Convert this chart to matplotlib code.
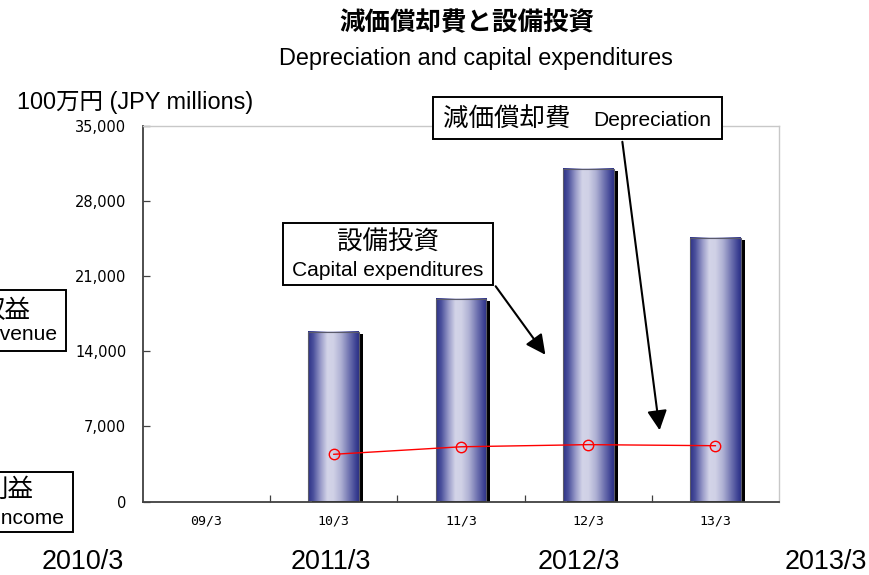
import numpy as np
import matplotlib
matplotlib.use("Agg")
import matplotlib.pyplot as plt
from matplotlib import font_manager
from matplotlib.colors import LinearSegmentedColormap
from matplotlib.patches import Rectangle, FancyArrowPatch

# ---------------- data ----------------
categories = ['09/3', '10/3', '11/3', '12/3', '13/3']
capex = [np.nan, 15800, 18900, 31000, 24600]          # 設備投資 (bars)
depreciation = [np.nan, 4400, 5100, 5300, 5200]       # 減価償却費 (line)
yticks = [0, 7000, 14000, 21000, 28000, 35000]
bottom_labels = ['2010/3', '2011/3', '2012/3', '2013/3']

W, H = 870, 575
fig = plt.figure(figsize=(W / 100, H / 100), dpi=100)

def fx(x):
    return x / W

def fy(y):
    return 1 - y / H

def pt(px):
    return px * 72 / 100

names = {f.name for f in font_manager.fontManager.ttflist}
LAT = ['Liberation Sans', 'DejaVu Sans']
JP = ['Noto Sans CJK JP', 'DejaVu Sans']
MIX = ['Liberation Sans', 'Noto Sans CJK JP', 'DejaVu Sans']
if 'Liberation Sans Narrow' in names:
    NARROW = ['Liberation Sans Narrow', 'DejaVu Sans']
    narrow_size = 30
elif 'DejaVu Sans Condensed' in names:
    NARROW = ['DejaVu Sans Condensed', 'DejaVu Sans']
    narrow_size = 27
else:
    NARROW = ['Liberation Sans', 'DejaVu Sans']
    narrow_size = 27

# ---------------- axes ----------------
ax = fig.add_axes([fx(143), fy(501.5), fx(779) - fx(143), fy(126) - fy(501.5)])
x = np.arange(len(categories))
ax.set_xlim(-0.5, len(categories) - 0.5)
ax.set_ylim(0, 35000)

cmap = LinearSegmentedColormap.from_list('barg', [
    (0.00, '#2c3186'), (0.10, '#4a4f9c'), (0.25, '#9a9cc9'),
    (0.38, '#d3d4e8'), (0.50, '#d0d1e6'), (0.65, '#aeb0d3'),
    (0.82, '#6b6fae'), (0.95, '#3a3f92'), (1.00, '#2c3186')])
grad = np.linspace(0, 1, 256).reshape(1, -1)

bw = 0.40
sx = 4 / 127               # shadow x offset in data units
sy = 2.5 * 35000 / 375.5   # shadow y offset in data units
for xi, v in zip(x, capex):
    if np.isnan(v):
        continue
    x0 = xi - bw / 2
    ax.add_patch(Rectangle((x0 + sx, 0), bw, v - sy, facecolor='black',
                           edgecolor='none', zorder=1.5))
    ax.imshow(grad, extent=[x0, x0 + bw, 0, v], aspect='auto', cmap=cmap,
              interpolation='bilinear', zorder=2)
    ax.add_patch(Rectangle((x0, 0), bw, v, facecolor='none',
                           edgecolor='#5a5a6a', linewidth=0.8, zorder=2.1))

ax.set_xlim(-0.5, len(categories) - 0.5)
ax.set_ylim(0, 35000)

ax.plot(x, depreciation, color='#ff0000', linewidth=1.0, marker='o',
        markersize=7.5, markerfacecolor='none', markeredgecolor='#ff0000',
        markeredgewidth=1.0, zorder=3)

# ticks
ax.set_yticks(yticks)
ax.set_yticklabels([f'{t:,}' for t in yticks], fontfamily=['DejaVu Sans'],
                   fontsize=10.5)
ax.tick_params(axis='y', direction='in', length=5, width=0.9, pad=12,
               color='#404040')
ax.set_xticks(x)
ax.set_xticklabels(categories, fontfamily=['DejaVu Sans Mono'], fontsize=9.5)
ax.tick_params(axis='x', which='major', length=0, pad=9)
ax.set_xticks(np.arange(-0.5, len(categories) + 0.5, 1)[1:-1], minor=True)
ax.tick_params(axis='x', which='minor', direction='in', length=5, width=0.9,
               color='#404040')

for s in ['left', 'bottom']:
    ax.spines[s].set_color('#404040')
    ax.spines[s].set_linewidth(1.3)
for s in ['top', 'right']:
    ax.spines[s].set_color('#c8c8c8')
    ax.spines[s].set_linewidth(1.0)

# ---------------- titles ----------------
fig.text(fx(467), fy(23), '減価償却費と設備投資', family=JP, weight='bold',
         fontsize=pt(25.5), ha='center', va='center')
fig.text(fx(476), fy(58), 'Depreciation and capital expenditures', family=LAT,
         fontsize=pt(23.5), ha='center', va='center')
fig.text(fx(17), fy(103), '100万円 (JPY millions)', family=MIX,
         fontsize=pt(23.5), ha='left', va='center')

# ---------------- callout boxes ----------------
def box(x0, y0, x1, y1):
    fig.patches.append(Rectangle((fx(x0), fy(y1)), fx(x1) - fx(x0),
                                 fy(y0) - fy(y1), transform=fig.transFigure,
                                 facecolor='white', edgecolor='black',
                                 linewidth=1.4, zorder=5))

box(433, 97, 722, 139)
fig.text(fx(507), fy(119), '減価償却費', family=JP, fontsize=pt(25.5),
         ha='center', va='center', zorder=6)
fig.text(fx(652), fy(120), 'Depreciation', family=LAT, fontsize=pt(21),
         ha='center', va='center', zorder=6)

box(283, 223, 493, 285)
fig.text(fx(388), fy(243), '設備投資', family=JP, fontsize=pt(25.5),
         ha='center', va='center', zorder=6)
fig.text(fx(388), fy(271), 'Capital expenditures', family=LAT, fontsize=pt(21),
         ha='center', va='center', zorder=6)

# partially visible boxes at the left edge (cut off as in the original)
box(-60, 290, 66, 351)
fig.text(fx(5), fy(311), '収益', family=JP, fontsize=pt(25.5),
         ha='center', va='center', zorder=6)
fig.text(fx(57), fy(335), 'Revenue', family=LAT, fontsize=pt(21),
         ha='right', va='center', zorder=6)

box(-60, 472, 73, 532)
fig.text(fx(8), fy(490), '利益', family=JP, fontsize=pt(25.5),
         ha='center', va='center', zorder=6)
fig.text(fx(64), fy(518), 'Income', family=LAT, fontsize=pt(21),
         ha='right', va='center', zorder=6)

# arrows
for (x0, y0, x1, y1) in [(622, 139, 660, 433), (494, 284, 547, 357)]:
    fig.add_artist(FancyArrowPatch(
        (fx(x0), fy(y0)), (fx(x1), fy(y1)), transform=fig.transFigure,
        arrowstyle='-|>,head_length=10,head_width=5', mutation_scale=1.2,
        color='black', linewidth=1.5, zorder=6))

# ---------------- bottom labels ----------------
for i, lab in enumerate(bottom_labels):
    fig.text(fx(83 + i * 247.7), fy(562), lab, family=NARROW,
             fontsize=pt(narrow_size), ha='center', va='center')

fig.savefig('out.png', dpi=100)
